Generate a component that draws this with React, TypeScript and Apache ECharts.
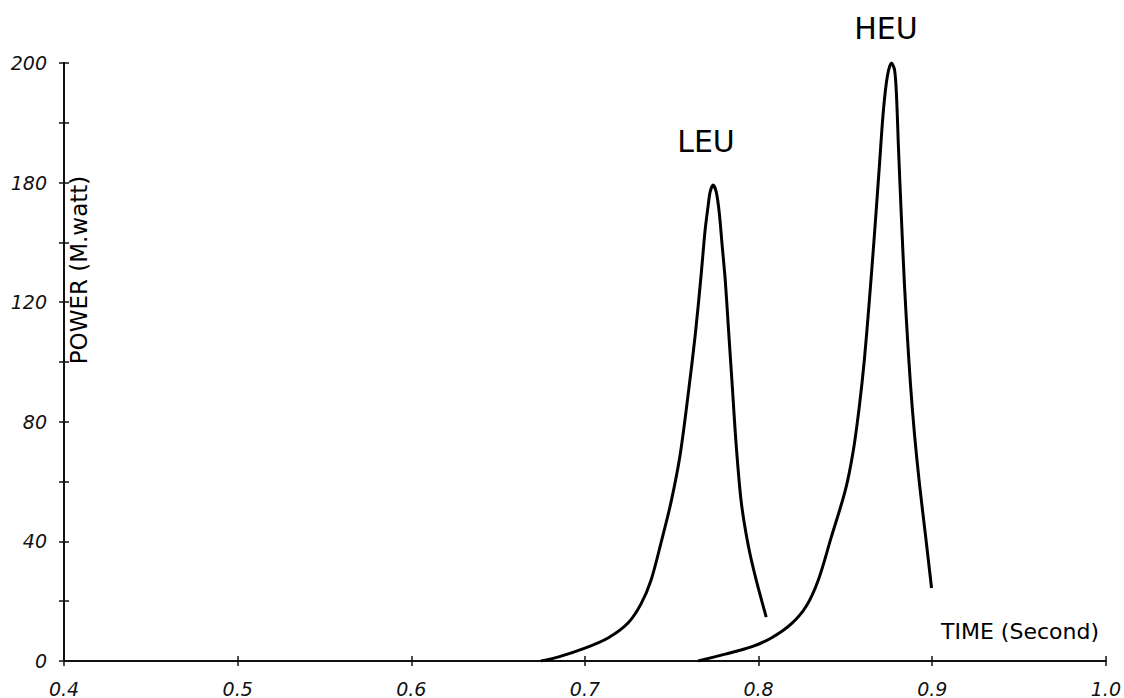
import React, { useEffect, useRef } from "react";
import * as echarts from "echarts";

// LEU transient: time (s) and power
const leuTime = [0.6746, 0.6844, 0.7, 0.7133, 0.7248, 0.7323, 0.7381, 0.7438, 0.7496, 0.7548, 0.7594, 0.7635, 0.7669, 0.7692, 0.771, 0.7721, 0.7738, 0.7756, 0.7773, 0.779, 0.7808, 0.7825, 0.7848, 0.7871, 0.79, 0.794, 0.7986, 0.8044];
const leuPower = [0, 1.3, 4.3, 7.7, 12.7, 19.1, 27.1, 39.5, 53.2, 68.9, 89.0, 109.0, 129.1, 144.1, 152.5, 156.9, 159.2, 156.9, 150.2, 139.1, 127.4, 112.4, 92.3, 72.2, 53.2, 38.8, 27.1, 14.7];

// HEU transient: time (s) and power
const heuTime = [0.7652, 0.7808, 0.7958, 0.8073, 0.8188, 0.8275, 0.8344, 0.8419, 0.85, 0.8546, 0.8581, 0.8609, 0.8638, 0.8667, 0.8696, 0.8719, 0.8742, 0.8765, 0.8783, 0.8794, 0.8806, 0.8823, 0.884, 0.8858, 0.8875, 0.8898, 0.8927, 0.8961, 0.8996];
const heuPower = [0, 2.3, 4.7, 7.7, 12.4, 18.4, 27.1, 41.5, 57.2, 70.6, 85.6, 100.7, 120.7, 142.5, 165.9, 184.3, 195.7, 200, 197.7, 189.3, 170.9, 147.5, 125.8, 107.4, 92.3, 75.6, 58.9, 42.1, 24.4];

// Hand-written tick labels on the power axis (the drawing labels the 160 mark as "180")
const yTickValues = [0, 40, 80, 120, 160, 200];
const yTickLabels = ["0", "40", "80", "120", "180", "200"];
const xTickLabels = ["0.4", "0.5", "0.6", "0.7", "0.8", "0.9", "1.0"];

const pair = (xs: number[], ys: number[]) => xs.map((x, i) => [x, ys[i]]);

export default function App() {
  const ref = useRef<HTMLDivElement>(null);
  useEffect(() => {
    if (!ref.current) return;
    const chart = echarts.init(ref.current, null, { renderer: "svg" });
    const numFont = { fontFamily: "DejaVu Sans", fontStyle: "italic" as const, fontSize: 19, color: "#111" };
    const tickStyle = { color: "#111", width: 1.5 };
    chart.setOption({
      animation: false,
      backgroundColor: "#fff",
      grid: { left: 64, right: 17, top: 63, bottom: 37 },
      xAxis: [
        {
          type: "value",
          min: 0.4,
          max: 1.0,
          interval: 0.1,
          axisLine: { show: true, lineStyle: { color: "#111", width: 2 } },
          axisTick: { show: true, length: 5, lineStyle: tickStyle },
          splitLine: { show: false },
          axisLabel: {
            ...numFont,
            margin: 18,
            formatter: (v: number) => xTickLabels[Math.round((v - 0.4) * 10)] ?? "",
          },
        },
        {
          type: "value",
          min: 0.4,
          max: 1.0,
          interval: 0.1,
          position: "bottom",
          axisLine: { show: false },
          axisTick: { show: true, inside: true, length: 5, lineStyle: tickStyle },
          axisLabel: { show: false },
          splitLine: { show: false },
        },
      ],
      yAxis: [
        {
          type: "value",
          min: 0,
          max: 200,
          interval: 20,
          axisLine: { show: true, lineStyle: { color: "#111", width: 2 } },
          axisTick: { show: true, length: 5, lineStyle: tickStyle },
          splitLine: { show: false },
          axisLabel: {
            ...numFont,
            margin: 17,
            formatter: (v: number) => {
              const i = yTickValues.indexOf(Math.round(v));
              return i >= 0 ? yTickLabels[i] : "";
            },
          },
        },
        {
          type: "value",
          min: 0,
          max: 200,
          interval: 20,
          position: "left",
          axisLine: { show: false },
          axisTick: { show: true, inside: true, length: 5, lineStyle: tickStyle },
          axisLabel: { show: false },
          splitLine: { show: false },
        },
      ],
      series: [
        {
          name: "LEU",
          type: "line",
          data: pair(leuTime, leuPower),
          smooth: 0.3,
          showSymbol: false,
          lineStyle: { color: "#000", width: 3 },
          z: 5,
        },
        {
          name: "HEU",
          type: "line",
          data: pair(heuTime, heuPower),
          smooth: 0.3,
          showSymbol: false,
          lineStyle: { color: "#000", width: 3 },
          z: 5,
        },
      ],
      graphic: [
        {
          type: "text",
          x: 706,
          y: 141,
          style: { text: "LEU", font: "30px 'DejaVu Sans'", fill: "#000", textAlign: "center", textVerticalAlign: "middle" },
        },
        {
          type: "text",
          x: 886,
          y: 28,
          style: { text: "HEU", font: "30px 'DejaVu Sans'", fill: "#000", textAlign: "center", textVerticalAlign: "middle" },
        },
        {
          type: "text",
          x: 1020,
          y: 631,
          style: { text: "TIME (Second)", font: "22px 'DejaVu Sans'", fill: "#000", textAlign: "center", textVerticalAlign: "middle" },
        },
        {
          type: "text",
          x: 79,
          y: 270,
          rotation: Math.PI / 2,
          style: { text: "POWER (M.watt)", font: "23px 'DejaVu Sans'", fill: "#000", textAlign: "center", textVerticalAlign: "middle" },
        },
      ],
    });
    return () => chart.dispose();
  }, []);
  return (
    <div
      ref={ref}
      style={{ position: "fixed", left: 0, top: 0, width: 1124, height: 698, background: "#fff" }}
    />
  );
}
